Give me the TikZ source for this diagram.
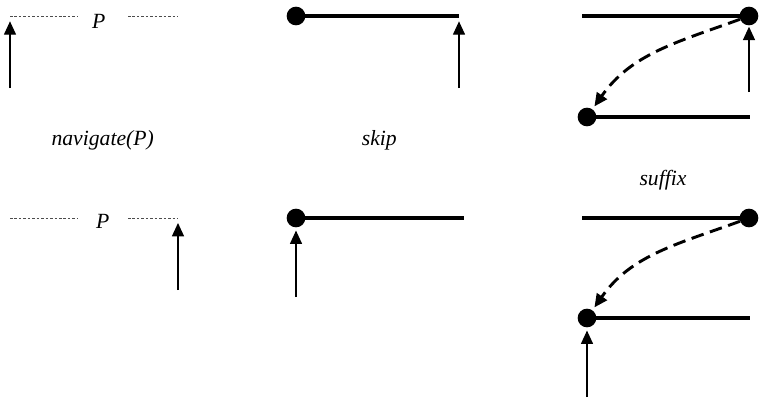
\documentclass[tikz,border=0pt]{standalone}
\usepackage{fontspec}
\setmainfont{Liberation Serif}
\usetikzlibrary{arrows.meta}

\begin{document}
\begin{tikzpicture}[scale=1,
bar/.style={line width=2.8pt},
pointer/.style={-{Triangle[length=0.4cm,width=0.36cm]},line width=1.1pt},
jump/.style={-{Triangle[length=0.4cm,width=0.36cm]},line width=2.5pt,dash pattern=on 0.38cm off 0.2cm,shorten >=0.1cm},
gap/.style={line width=0.8pt,black!70,dash pattern=on 2.2pt off 1.6pt},
dot/.style={circle,fill,inner sep=0pt,minimum size=0.56cm},
lbl/.style={font=\fontsize{18.5}{22}\selectfont\itshape}]

\useasboundingbox (0,0) rectangle (22.77,-12);

% navigate(P), before
\coordinate
(navA)
at (0.3,-0.48);

\coordinate
(navB)
at (2.31,-0.48);

\node[lbl]
(navP)
at (2.96,-0.645)
{P};

\coordinate
(navC)
at (3.84,-0.48);

\coordinate
(navD)
at (5.31,-0.48);

\draw[gap]
(navA)
--
(navB);

\draw[gap]
(navC)
--
(navD);

\coordinate
(navstart)
at (0.3,-2.64);

\draw[pointer,shorten >=0.16cm]
(navstart)
--
(navA);

\node[lbl]
(navlabel)
at (3.08,-4.2)
{navigate(P)};

% skip, before
\node[dot]
(skipdot)
at (8.88,-0.48)
{};

\coordinate
(skipend)
at (13.77,-0.48);

\draw[bar]
(skipdot.center)
--
(skipend);

\coordinate
(skipstart)
at (13.77,-2.64);

\draw[pointer,shorten >=0.16cm]
(skipstart)
--
(skipend);

\node[lbl]
(skiplabel)
at (11.38,-4.2)
{skip};

% suffix, before
\coordinate
(sufTopA)
at (17.46,-0.48);

\node[dot]
(sufTop)
at (22.47,-0.48)
{};

\draw[bar]
(sufTopA)
--
(sufTop.center);

\node[dot]
(sufBot)
at (17.61,-3.51)
{};

\coordinate
(sufBotB)
at (22.5,-3.51);

\draw[bar]
(sufBot.center)
--
(sufBotB);

\coordinate
(sufstart)
at (22.47,-2.76);

\draw[pointer,shorten >=1pt]
(sufstart)
--
(sufTop.south);

\draw[jump]
(sufTop)
to[out=200,in=55]
(sufBot);

\node[lbl]
(suffixlabel)
at (19.89,-5.4)
{suffix};

% navigate(P), after
\coordinate
(navA2)
at (0.3,-6.54);

\coordinate
(navB2)
at (2.31,-6.54);

\node[lbl]
(navP2)
at (3.08,-6.63)
{P};

\coordinate
(navC2)
at (3.84,-6.54);

\coordinate
(navD2)
at (5.34,-6.54);

\draw[gap]
(navA2)
--
(navB2);

\draw[gap]
(navC2)
--
(navD2);

\coordinate
(navstart2)
at (5.34,-8.7);

\draw[pointer,shorten >=0.15cm]
(navstart2)
--
(navD2);

% skip, after
\node[dot]
(skipdot2)
at (8.88,-6.54)
{};

\coordinate
(skipend2)
at (13.92,-6.54);

\draw[bar]
(skipdot2.center)
--
(skipend2);

\coordinate
(skipstart2)
at (8.88,-8.91);

\draw[pointer,shorten >=0.09cm]
(skipstart2)
--
(skipdot2.south);

% suffix, after
\coordinate
(sufTopA2)
at (17.46,-6.54);

\node[dot]
(sufTop2)
at (22.47,-6.54)
{};

\draw[bar]
(sufTopA2)
--
(sufTop2.center);

\node[dot]
(sufBot2)
at (17.61,-9.54)
{};

\coordinate
(sufBotB2)
at (22.5,-9.54);

\draw[bar]
(sufBot2.center)
--
(sufBotB2);

\draw[jump]
(sufTop2)
to[out=200,in=55]
(sufBot2);

\coordinate
(sufstart2)
at (17.61,-11.91);

\draw[pointer,shorten >=0.09cm]
(sufstart2)
--
(sufBot2.south);

\end{tikzpicture}
\end{document}
